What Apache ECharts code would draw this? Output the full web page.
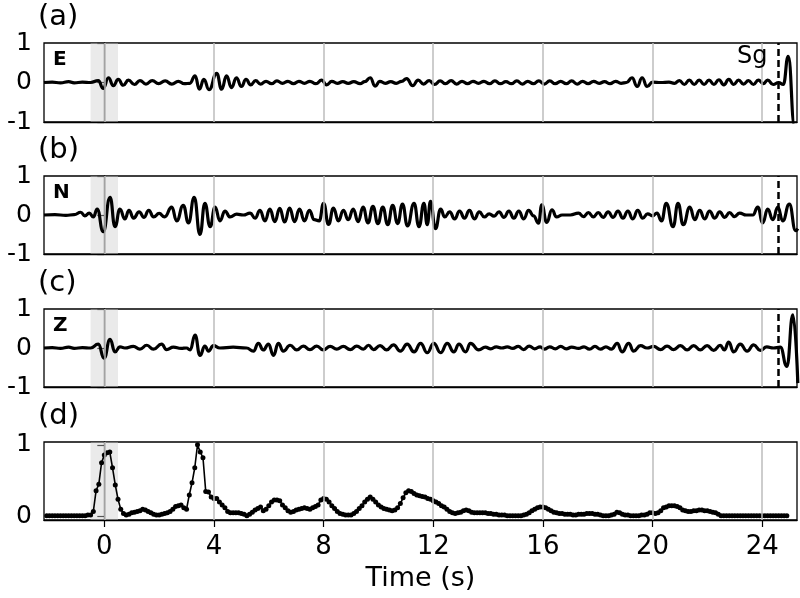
<!DOCTYPE html>
<html><head><meta charset="utf-8">
<script src="https://cdn.jsdelivr.net/npm/echarts@6/dist/echarts.min.js"></script>
<style>html,body{margin:0;padding:0;background:#fff}#c{width:800px;height:598px}</style>
</head><body><div id="c"></div><script>
// ---- data ----
const xTicks = [0, 4, 8, 12, 16, 20, 24];
const xRange = [-2.2, 25.27];
const shadeWindow = [-0.5, 0.5];
const sgTime = 24.58;
const sgLabel = 'Sg';
const panelLabels = ['(a)', '(b)', '(c)', '(d)'];
const componentLabels = ['E', 'N', 'Z'];
const waveYRange = [-1, 1];
const envYRange = [-0.05, 1.04];
const envYTicks = [0, 1];
const xName = 'Time (s)';

const traceE = [
[-2.2,0],[-1.9,0.01],[-1.6,-0.01],[-1.3,0.02],[-1.1,-0.01],[-0.8,0.01],[-0.5,0],
[-0.22,0.05],[-0.04,-0.15],[0.15,0.12],[0.33,-0.08],[0.51,0.08],[0.69,-0.07],[0.88,0.06],[1.1,-0.05],[1.3,0.05],[1.52,-0.04],[1.75,0.05],[1.98,-0.03],[2.22,0.04],[2.46,-0.04],[2.7,0.03],[2.92,-0.03],[3.12,-0.02],
[3.31,0.17],[3.47,-0.17],[3.63,0.08],[3.82,-0.18],[4.1,0.23],[4.28,-0.17],[4.46,0.17],[4.64,-0.13],[4.82,0.12],[5.0,-0.1],[5.17,0.08],[5.34,-0.06],[5.52,0.05],
[5.7,-0.04],[5.9,0.03],[6.1,-0.03],[6.3,0.04],[6.5,-0.02],[6.7,0.03],[6.9,-0.03],[7.1,0.03],[7.3,-0.02],[7.5,0.03],[7.72,-0.03],[7.93,0.06],[8.11,-0.06],[8.3,0.03],[8.5,-0.02],[8.7,0.02],[8.9,-0.02],[9.1,0.02],
[9.33,-0.03],[9.5,0.02],[9.7,0.12],[9.88,-0.09],[10.05,0.03],[10.25,-0.02],[10.45,0.02],[10.65,-0.02],[10.85,0.03],[11.03,0.1],[11.25,-0.08],[11.45,0.06],[11.65,-0.04],[11.85,0.05],
[12.05,-0.05],[12.25,0.04],[12.45,-0.03],[12.65,0.05],[12.85,-0.04],[13.05,0.03],[13.25,-0.03],[13.45,0.03],[13.65,-0.02],[13.85,0.03],[14.05,-0.03],[14.25,0.04],[14.45,-0.03],[14.65,0.02],[14.85,-0.03],
[15.05,0.04],[15.25,-0.04],[15.45,0.03],[15.65,-0.03],[15.85,0.04],[16.05,-0.04],[16.25,0.04],[16.45,-0.03],[16.65,0.03],[16.85,-0.03],[17.05,0.04],[17.25,-0.04],[17.45,0.03],[17.65,-0.03],[17.85,0.03],
[18.05,-0.02],[18.25,0.02],[18.45,-0.03],[18.65,0.03],[18.85,-0.02],[19.05,0.0],[19.25,0.12],[19.44,-0.1],[19.62,0.12],[19.8,-0.1],[20.0,0.01],[20.3,0.0],[20.6,0.01],[20.8,-0.02],
[20.98,0.05],[21.16,-0.05],[21.34,0.06],[21.52,-0.05],[21.7,0.06],[21.88,-0.05],[22.06,0.06],[22.24,-0.05],[22.42,0.07],[22.6,-0.06],[22.78,0.08],[22.96,-0.05],[23.14,0.06],[23.32,-0.04],[23.5,0.05],[23.68,-0.05],[23.86,0.06],[24.04,-0.03],
[24.2,0.06],[24.4,-0.05],[24.6,0.0],[24.77,-0.05],[24.95,0.66],[25.18,-1.1],[25.3,-1.4]
];

const traceN = [
[-2.2,0],[-1.8,0.01],[-1.4,-0.01],[-1.1,0.01],[-0.86,0.07],[-0.71,-0.02],[-0.55,0.05],[-0.4,-0.05],[-0.26,0.15],[-0.04,-0.43],[0.21,0.45],[0.39,-0.3],[0.57,0.15],[0.75,-0.1],[0.9,0.12],[1.07,-0.08],[1.27,0.08],[1.45,-0.06],[1.62,0.12],[1.8,-0.05],[2.0,0.04],[2.2,-0.05],
[2.46,0.2],[2.64,-0.15],[2.88,0.25],[3.07,-0.2],[3.28,0.45],[3.49,-0.5],[3.67,0.3],[3.86,-0.3],[4.04,0.2],[4.22,-0.15],[4.4,0.1],[4.59,-0.05],[4.83,0.02],[5.07,0.0],[5.32,0.05],
[5.5,-0.08],[5.68,0.12],[5.86,-0.15],[6.04,0.15],[6.22,-0.17],[6.4,0.17],[6.58,-0.18],[6.76,0.18],[6.94,-0.17],[7.12,0.15],[7.3,-0.15],[7.48,0.12],[7.66,-0.12],[7.84,-0.15],[8.0,0.3],[8.18,-0.24],[8.36,0.18],[8.54,-0.15],[8.72,0.12],[8.9,-0.12],
[9.08,0.15],[9.26,-0.17],[9.44,0.2],[9.62,-0.2],[9.8,0.22],[9.98,-0.22],[10.16,0.2],[10.34,-0.25],[10.52,0.25],[10.7,-0.22],[10.88,0.28],[11.06,-0.28],[11.3,0.3],[11.48,-0.3],[11.66,0.3],[11.78,-0.25],[11.9,0.35],[12.08,-0.35],
[12.27,0.15],[12.42,-0.05],[12.6,0.08],[12.78,-0.1],[12.96,0.1],[13.14,-0.08],[13.32,0.12],[13.5,-0.1],[13.68,0.08],[13.86,-0.05],[14.04,0.03],[14.22,-0.03],[14.4,0.08],[14.58,-0.06],[14.76,0.1],[14.94,-0.08],[15.12,0.1],[15.3,-0.1],[15.48,0.12],[15.66,-0.02],
[15.84,-0.21],[15.96,0.26],[16.14,-0.19],[16.33,0.13],[16.5,-0.05],[16.7,0.0],[17.0,0.0],[17.3,0.05],[17.48,-0.04],[17.66,0.06],[17.84,-0.05],[18.02,0.06],[18.2,-0.06],[18.38,0.08],[18.56,-0.06],[18.74,0.1],[18.92,-0.08],[19.1,0.1],[19.28,-0.1],[19.46,0.12],[19.64,-0.08],[19.82,0.03],[20.0,-0.02],[20.16,0.05],
[20.33,-0.15],[20.5,0.3],[20.75,-0.3],[20.93,0.3],[21.12,-0.25],[21.36,0.2],[21.54,-0.12],[21.72,0.12],[21.9,-0.1],[22.08,0.1],[22.27,-0.08],[22.45,0.08],[22.63,-0.06],[22.81,0.06],[22.99,-0.04],[23.18,0.05],[23.42,0.0],[23.66,0.0],
[23.84,0.2],[24.02,-0.2],[24.2,0.15],[24.39,-0.12],[24.57,0.2],[24.75,-0.15],[24.99,0.28],[25.22,-0.4],[25.3,-0.35]
];

const traceZ = [
[-2.2,0],[-1.9,0.01],[-1.6,-0.01],[-1.3,0.02],[-1.1,-0.01],[-0.8,0.01],[-0.5,0],[-0.22,0.1],[-0.01,-0.26],[0.21,0.22],[0.39,-0.1],[0.57,0.03],[0.75,0.0],[1.06,0.04],[1.3,-0.03],[1.55,0.07],[1.79,-0.03],[2.09,0.1],[2.27,-0.04],[2.52,0.02],[2.8,-0.01],[3.0,0.0],
[3.13,-0.05],[3.31,0.33],[3.49,-0.19],[3.67,0.05],[3.8,-0.08],[3.98,0.06],[4.22,0.0],[4.7,0.02],[5.19,0.0],[5.44,-0.08],[5.62,0.12],[5.8,-0.05],[5.99,0.1],[6.17,-0.19],[6.35,0.12],[6.53,-0.08],[6.78,0.07],[7.02,-0.05],[7.26,0.05],[7.5,-0.04],[7.75,0.05],[7.99,-0.05],
[8.24,0.04],[8.48,-0.03],[8.72,0.04],[8.97,-0.04],[9.21,0.05],[9.45,-0.03],[9.64,0.07],[9.82,-0.04],[10.06,0.06],[10.3,-0.05],[10.55,0.08],[10.8,-0.08],[11.05,0.1],[11.3,-0.1],[11.54,0.12],[11.78,-0.12],[12.02,0.12],[12.27,-0.12],[12.51,0.12],[12.75,-0.1],[12.94,0.1],[13.18,-0.1],[13.36,0.12],[13.66,-0.05],
[13.9,0.02],[14.1,-0.02],[14.3,0.03],[14.5,0.0],[14.7,0.03],[14.9,-0.01],[15.1,0.04],[15.3,-0.04],[15.5,0.05],[15.7,-0.02],[15.9,0.03],[16.05,-0.03],[16.25,0.03],[16.45,-0.02],[16.65,0.04],[16.85,-0.02],[17.05,0.02],[17.3,-0.01],[17.5,0.03],[17.7,-0.03],[17.9,0.04],[18.1,-0.03],[18.3,0.03],[18.5,-0.03],
[18.71,0.12],[18.89,-0.1],[19.13,0.12],[19.31,-0.08],[19.56,0.06],[19.8,0.0],[20.04,0.04],[20.29,-0.04],[20.53,0.05],[20.77,-0.04],[21.02,0.06],[21.26,-0.05],[21.5,0.06],[21.74,-0.05],[21.99,0.06],[22.23,-0.06],[22.47,0.07],[22.62,-0.05],[22.78,0.15],[22.96,-0.1],[23.2,0.1],[23.45,-0.08],[23.69,0.08],[23.93,-0.06],
[24.17,0.03],[24.41,0.0],[24.66,0.02],[24.9,-0.47],[25.12,0.85],[25.3,-0.9]
];

// envelope sampled every 0.1 s starting at -2.1 s
const envStart = -2.1;
const envStep = 0.1;
const envValues = [
0.01,0.01,0.01,0.01,0.01,0.01,0.01,0.01,0.01,0.01,
0.01,0.01,0.01,0.01,0.01,0.02,0.02,0.07,0.36,0.45,
0.75,0.86,0.89,0.9,0.68,0.44,0.24,0.1,0.04,0.02,
0.03,0.05,0.06,0.07,0.08,0.1,0.09,0.07,0.05,0.03,
0.02,0.02,0.03,0.04,0.05,0.07,0.1,0.14,0.15,0.16,
0.12,0.1,0.3,0.47,0.68,1.0,0.9,0.82,0.35,0.34,
0.27,0.25,0.25,0.2,0.16,0.12,0.07,0.05,0.05,0.05,
0.05,0.04,0.03,0.01,0.03,0.06,0.09,0.11,0.13,0.08,
0.1,0.15,0.2,0.23,0.23,0.22,0.16,0.12,0.08,0.06,
0.07,0.09,0.1,0.11,0.12,0.11,0.1,0.12,0.14,0.16,
0.23,0.25,0.24,0.2,0.15,0.11,0.07,0.04,0.03,0.02,
0.02,0.02,0.04,0.07,0.11,0.15,0.2,0.24,0.27,0.24,
0.2,0.16,0.13,0.11,0.1,0.09,0.08,0.09,0.12,0.18,
0.26,0.33,0.36,0.35,0.32,0.3,0.29,0.28,0.27,0.25,
0.24,0.22,0.2,0.18,0.15,0.13,0.1,0.07,0.05,0.04,
0.05,0.06,0.08,0.09,0.08,0.06,0.05,0.05,0.05,0.05,
0.05,0.04,0.04,0.03,0.03,0.02,0.02,0.02,0.01,0.01,
0.01,0.01,0.01,0.01,0.02,0.03,0.05,0.08,0.1,0.12,
0.13,0.13,0.12,0.1,0.08,0.06,0.05,0.04,0.04,0.03,
0.03,0.03,0.02,0.02,0.03,0.03,0.03,0.04,0.04,0.04,
0.03,0.03,0.02,0.01,0.01,0.01,0.02,0.03,0.06,0.05,
0.03,0.02,0.02,0.01,0.01,0.01,0.01,0.02,0.02,0.03,
0.05,0.05,0.04,0.05,0.08,0.12,0.13,0.15,0.15,0.15,
0.14,0.12,0.09,0.08,0.07,0.07,0.08,0.08,0.09,0.09,
0.08,0.08,0.07,0.06,0.05,0.03,0.01,0.01,0.01,0.01,
0.01,0.01,0.01,0.01,0.01,0.01,0.01,0.01,0.01,0.01,
0.01,0.01,0.01,0.01,0.01,0.01,0.01,0.01,0.01,0.01,
0.01
];

// ---- layout ----
const FONT = 'DejaVu Sans';
const gridTops = [43, 176, 309, 442];
const gridH = [79, 78, 78, 78];
const chart = echarts.init(document.getElementById('c'), null, {renderer: 'canvas'});

const grids = [], xAxes = [], yAxes = [], series = [], titles = [];
const waves = [traceE, traceN, traceZ];
for (let i = 0; i < 4; i++) {
  const isBottom = i === 3;
  grids.push({left: 44, right: 3, top: gridTops[i], height: gridH[i], show: true,
    borderColor: '#000', borderWidth: 1.3, backgroundColor: 'transparent', containLabel: false});
  xAxes.push({type: 'value', gridIndex: i, min: xRange[0], max: xRange[1],
    axisLine: {show: true, onZero: false, lineStyle: {color: '#000', width: 1.3}},
    splitLine: {show: false},
    axisTick: {show: isBottom, customValues: xTicks, length: 7, lineStyle: {color: '#000', width: 1.2}},
    axisLabel: {show: isBottom, customValues: xTicks, color: '#000', fontSize: 26, fontFamily: FONT, margin: 14},
    name: isBottom ? xName : '', nameLocation: 'middle', nameGap: 45,
    nameTextStyle: {color: '#000', fontSize: 27, fontFamily: FONT}
  });
  if (!isBottom) {
    yAxes.push({type: 'value', gridIndex: i, min: waveYRange[0], max: waveYRange[1], interval: 1,
      axisLine: {show: true, lineStyle: {color: '#000', width: 1.3}},
      splitLine: {show: false},
      axisTick: {show: true, length: 7, lineStyle: {color: '#000', width: 1.2}},
      axisLabel: {color: '#000', fontSize: 25, fontFamily: FONT, margin: 12}
    });
  } else {
    yAxes.push({type: 'value', gridIndex: i, min: envYRange[0], max: envYRange[1],
      axisLine: {show: true, lineStyle: {color: '#000', width: 1.3}},
      splitLine: {show: false},
      axisTick: {show: true, customValues: envYTicks, length: 7, lineStyle: {color: '#000', width: 1.2}},
      axisLabel: {customValues: envYTicks, color: '#000', fontSize: 25, fontFamily: FONT, margin: 12}
    });
  }
  // background: shading + grid lines
  series.push({type: 'line', xAxisIndex: i, yAxisIndex: i, data: [[xTicks[0], 0]],
    symbol: 'none', lineStyle: {opacity: 0}, silent: true, z: 1, animation: false,
    markArea: {silent: true, itemStyle: {color: 'rgba(205,205,205,0.42)'},
      data: [[{xAxis: shadeWindow[0]}, {xAxis: shadeWindow[1]}]]},
    markLine: {silent: true, symbol: 'none', label: {show: false},
      lineStyle: {color: '#bdbdbd', width: 1.5, type: 'solid'},
      data: xTicks.map(v => ({xAxis: v}))}
  });
  titles.push({text: panelLabels[i], left: 38, top: gridTops[i] - 40, padding: 0,
    textStyle: {fontSize: 29, fontWeight: 'normal', fontFamily: FONT, color: '#000'}});
  if (!isBottom) {
    series.push({type: 'line', xAxisIndex: i, yAxisIndex: i, data: waves[i],
      showSymbol: false, symbol: 'none', smooth: 0.5, smoothMonotone: 'x', clip: true,
      lineStyle: {color: '#000', width: 3.2}, z: 3, animation: false, silent: true});
    series.push({type: 'line', xAxisIndex: i, yAxisIndex: i, data: [[sgTime, 0]],
      symbol: 'none', lineStyle: {opacity: 0}, silent: true, z: 5, animation: false,
      markLine: {silent: true, symbol: 'none', label: {show: false},
        lineStyle: {color: '#000', width: 2.5, type: [7, 4]},
        data: [{xAxis: sgTime}]}
    });
    titles.push({text: componentLabels[i], left: 53, top: gridTops[i] + 7, padding: 0,
      textStyle: {fontSize: 20, fontWeight: 'bold', fontFamily: FONT, color: '#000'}});
  } else {
    series.push({type: 'line', xAxisIndex: i, yAxisIndex: i,
      data: envValues.map((v, k) => [envStart + k * envStep, v]),
      symbol: 'circle', symbolSize: 5, showSymbol: true,
      itemStyle: {color: '#000'}, lineStyle: {color: '#000', width: 1.6}, z: 3, animation: false, silent: true});
  }
}
titles.push({text: sgLabel, left: 737, top: 45, padding: 0,
  textStyle: {fontSize: 24, fontWeight: 'normal', fontFamily: FONT, color: '#000'}});

chart.setOption({
  animation: false,
  backgroundColor: '#fff',
  textStyle: {fontFamily: FONT},
  title: titles,
  grid: grids,
  xAxis: xAxes,
  yAxis: yAxes,
  series: series
});
</script></body></html>
